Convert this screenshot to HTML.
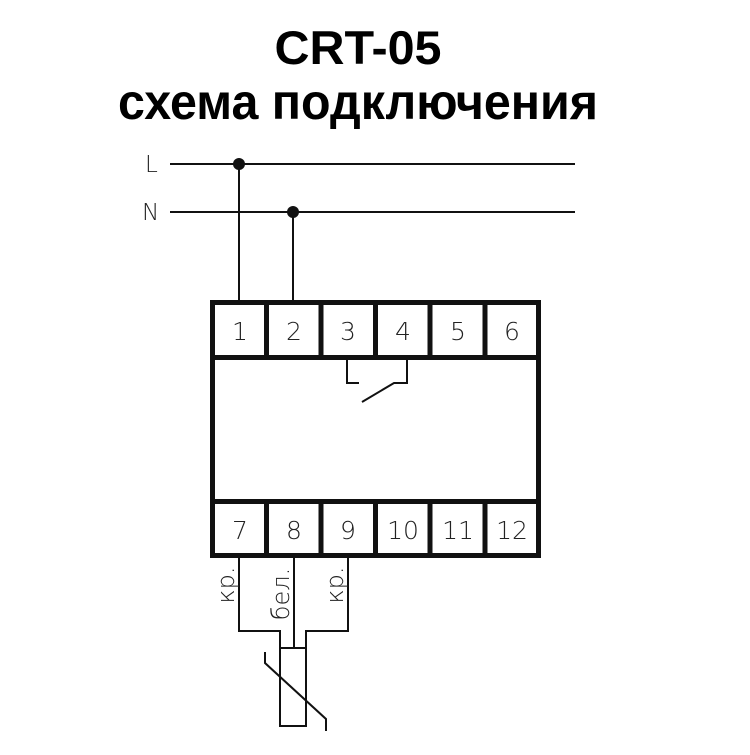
<!DOCTYPE html>
<html><head><meta charset="utf-8"><style>body{margin:0;background:#fff}</style></head><body>
<svg width="750" height="750" viewBox="0 0 750 750" xmlns="http://www.w3.org/2000/svg">
<rect width="750" height="750" fill="#fff"/>
<text x="358" y="64" font-family="Liberation Sans, sans-serif" font-weight="bold" font-size="47" text-anchor="middle" textLength="167" lengthAdjust="spacingAndGlyphs">CRT-05</text>
<text x="358" y="119" font-family="Liberation Sans, sans-serif" font-weight="bold" font-size="50" text-anchor="middle" textLength="480" lengthAdjust="spacingAndGlyphs">схема подключения</text>
<g font-family="DejaVu Sans, sans-serif" font-size="23" fill="#222" font-weight="300">
<text x="145" y="172">L</text><text x="142" y="220">N</text>
</g>
<g stroke="#111" stroke-width="2" fill="none">
<line x1="170" y1="164" x2="575" y2="164"/>
<line x1="170" y1="212" x2="575" y2="212"/>
<line x1="239" y1="164" x2="239" y2="302"/>
<line x1="293" y1="212" x2="293" y2="302"/>
<polyline points="347,360 347,383 359,383"/>
<polyline points="407,360 407,383 394,383 362,402"/>
<polyline points="239,558 239,631 280,631 280,648"/>
<line x1="294" y1="558" x2="294" y2="648"/>
<polyline points="348,558 348,631 306,631 306,648"/>
<rect x="280" y="648" width="26" height="78"/>
<polyline points="265,652 265,663 326,719 326,731"/>
</g>
<g stroke="#111" stroke-width="5" fill="none">
<rect x="212.5" y="302.5" width="326" height="253"/>
<line x1="212" y1="357.5" x2="539" y2="357.5"/>
<line x1="212" y1="501.5" x2="539" y2="501.5"/>
<line x1="266.5" y1="302" x2="266.5" y2="358"/><line x1="321" y1="302" x2="321" y2="358"/><line x1="375.5" y1="302" x2="375.5" y2="358"/><line x1="430" y1="302" x2="430" y2="358"/><line x1="485" y1="302" x2="485" y2="358"/>
<line x1="266.5" y1="501" x2="266.5" y2="556"/><line x1="321" y1="501" x2="321" y2="556"/><line x1="375.5" y1="501" x2="375.5" y2="556"/><line x1="430" y1="501" x2="430" y2="556"/><line x1="485" y1="501" x2="485" y2="556"/>
</g>
<circle cx="239" cy="164" r="6" fill="#111"/>
<circle cx="293" cy="212" r="6" fill="#111"/>
<g font-family="DejaVu Sans, sans-serif" font-size="25" fill="#222" text-anchor="middle" font-weight="300">
<text x="240" y="340">1</text><text x="294" y="340">2</text><text x="348" y="340">3</text><text x="403" y="340">4</text><text x="458" y="340">5</text><text x="512" y="340">6</text>
<text x="240" y="539">7</text><text x="294" y="539">8</text><text x="348" y="539">9</text><text x="403" y="539">10</text><text x="458" y="539">11</text><text x="512" y="539">12</text>
</g>
<g font-family="DejaVu Sans, sans-serif" font-size="24" fill="#222" text-anchor="middle" font-weight="300">
<text transform="translate(234,585) rotate(-90)">кр.</text>
<text transform="translate(289,594) rotate(-90)">бел.</text>
<text transform="translate(343,585) rotate(-90)">кр.</text>
</g>
</svg>
</body></html>
